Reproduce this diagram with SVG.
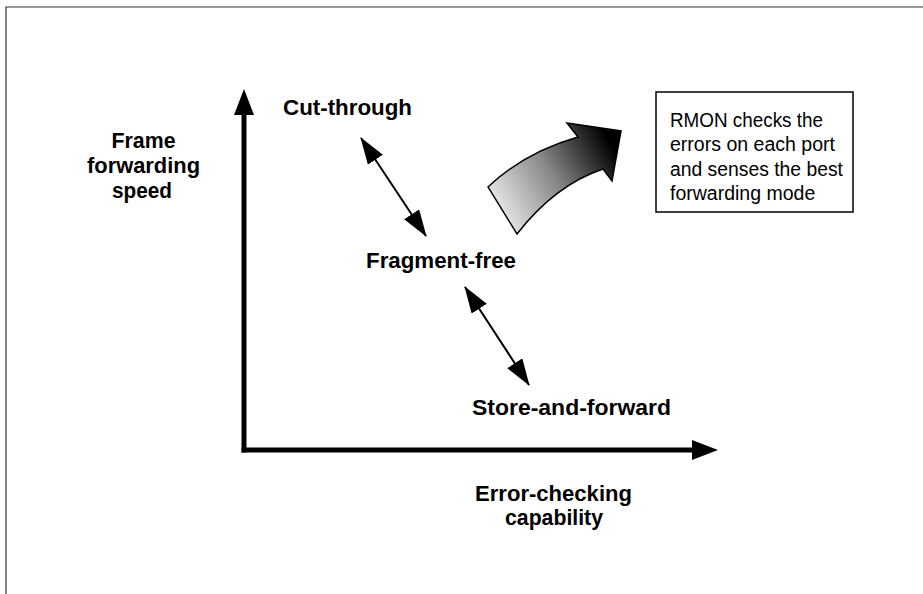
<svg xmlns="http://www.w3.org/2000/svg" width="923" height="594" viewBox="0 0 923 594">
<style>
.lbl{font-family:"Liberation Sans",Arial,sans-serif;font-weight:bold;font-size:22px;fill:#000}
.box{font-family:"Liberation Sans",Arial,sans-serif;font-size:19.5px;fill:#000}
.axis{stroke:#000;stroke-width:5;fill:none}
.dbl{stroke:#000;stroke-width:2;fill:none}
</style>
<defs>
<marker id="axhead" markerWidth="6" markerHeight="4" refX="0" refY="2" orient="auto" markerUnits="strokeWidth">
<path d="M0,0 L5.2,2 L0,4 Z" fill="#000"/>
</marker>
<marker id="dhead" markerWidth="14" markerHeight="10" refX="13" refY="4.5" orient="auto-start-reverse" markerUnits="strokeWidth">
<path d="M0,0 L13.5,4.5 L0,9 Z" fill="#000"/>
</marker>
<linearGradient id="grad" gradientUnits="userSpaceOnUse" x1="495" y1="212" x2="612" y2="145">
<stop offset="0" stop-color="#ececec"/>
<stop offset="0.5" stop-color="#888"/>
<stop offset="1" stop-color="#000"/>
</linearGradient>
</defs>
<rect width="923" height="594" fill="#fff"/>
<g id="frame">
<path d="M6,594 V7 H923" fill="none" stroke="#333" stroke-width="1.2"/>
</g>
<g id="connectors">
<line class="axis" x1="244" y1="452.5" x2="244" y2="115" marker-end="url(#axhead)"/>
<line class="axis" x1="241.5" y1="450" x2="692" y2="450" marker-end="url(#axhead)"/>
<line class="dbl" x1="361" y1="138" x2="426" y2="236" marker-start="url(#dhead)" marker-end="url(#dhead)"/>
<line class="dbl" x1="465" y1="287" x2="529" y2="385" marker-start="url(#dhead)" marker-end="url(#dhead)"/>
<path id="bigarrow" d="M488,187 Q525,152 578,137 L567,123 L621,131 L612,181 L603,169 Q555,185 517,234 Z" fill="url(#grad)" stroke="#000" stroke-width="1.5" stroke-linejoin="miter"/>
</g>
<g id="yaxis-label">
<text class="lbl" text-anchor="middle" x="143.5" y="148" textLength="64" lengthAdjust="spacingAndGlyphs">Frame</text>
<text class="lbl" text-anchor="middle" x="143.5" y="173" textLength="113" lengthAdjust="spacingAndGlyphs">forwarding</text>
<text class="lbl" text-anchor="middle" x="142" y="198" textLength="60" lengthAdjust="spacingAndGlyphs">speed</text>
</g>
<g id="xaxis-label">
<text class="lbl" text-anchor="middle" x="553.5" y="501" textLength="157" lengthAdjust="spacingAndGlyphs">Error-checking</text>
<text class="lbl" text-anchor="middle" x="554" y="525" textLength="98" lengthAdjust="spacingAndGlyphs">capability</text>
</g>
<g id="cut-through">
<text class="lbl" x="283" y="115" textLength="129" lengthAdjust="spacingAndGlyphs">Cut-through</text>
</g>
<g id="fragment-free">
<text class="lbl" x="366" y="268" textLength="150" lengthAdjust="spacingAndGlyphs">Fragment-free</text>
</g>
<g id="store-and-forward">
<text class="lbl" x="472" y="415" textLength="199" lengthAdjust="spacingAndGlyphs">Store-and-forward</text>
</g>
<g id="rmon-box">
<rect x="656" y="92" width="197" height="120" fill="#fff" stroke="#000" stroke-width="1.5"/>
<text class="box" x="670" y="127" textLength="153" lengthAdjust="spacingAndGlyphs">RMON checks the</text>
<text class="box" x="670" y="151" textLength="165" lengthAdjust="spacingAndGlyphs">errors on each port</text>
<text class="box" x="670" y="176" textLength="173" lengthAdjust="spacingAndGlyphs">and senses the best</text>
<text class="box" x="670" y="200">forwarding mode</text>
</g>
</svg>
